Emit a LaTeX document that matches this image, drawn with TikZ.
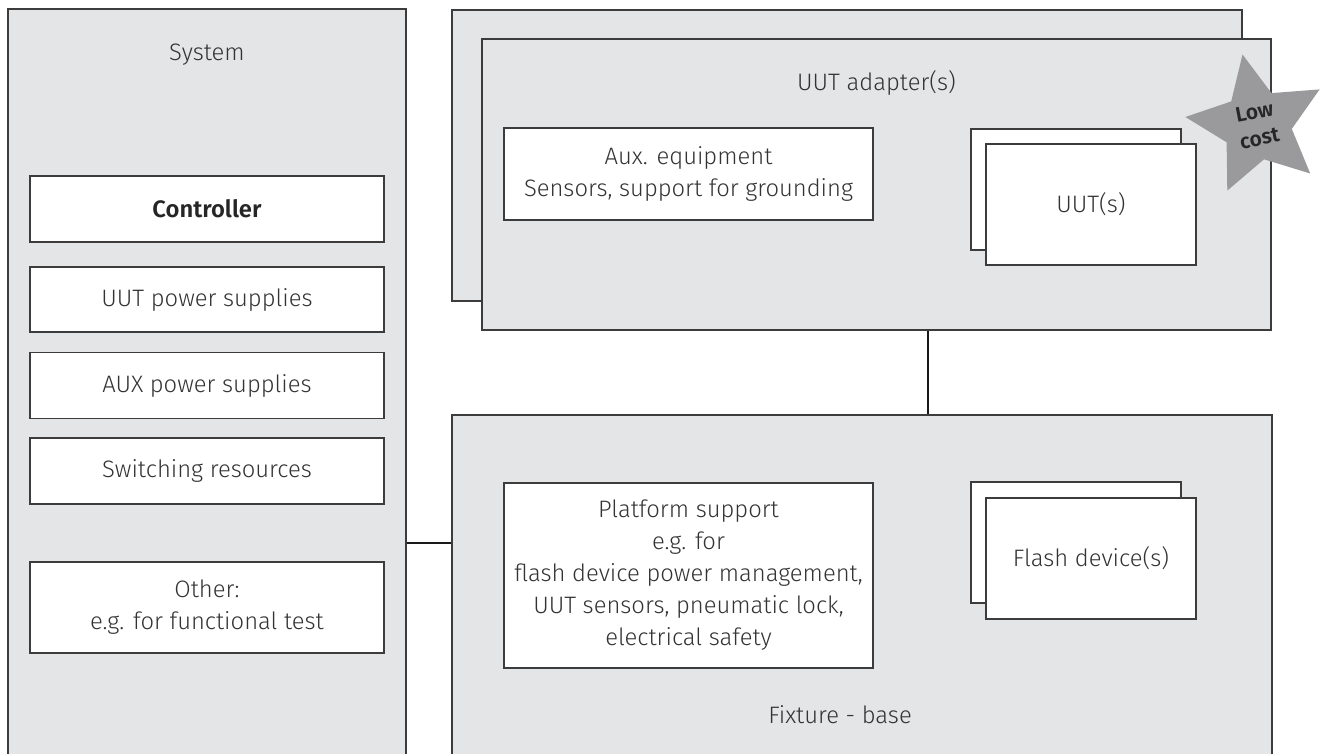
\documentclass[tikz,border=0pt]{standalone}
\usepackage{fontspec}
\IfFontExistsTF{Fira Sans Light}{%
  \IfFontExistsTF{Fira Sans SemiBold}%
    {\setmainfont{Fira Sans Light}[BoldFont={Fira Sans SemiBold}]}%
    {\setmainfont{Fira Sans Light}[BoldFont={Fira Sans Bold}]}%
}{\setmainfont{Fira Sans}}
\definecolor{panelgray}{HTML}{E4E5E7}
\definecolor{edgegray}{HTML}{3C3C3C}
\definecolor{textgray}{HTML}{333333}
\definecolor{stargray}{HTML}{9A9A9C}

\begin{document}
\begin{tikzpicture}[
		x=1pt,y=-1pt,
		every node/.style={font=\fontsize{23.8}{32}\selectfont,text=textgray,inner sep=0pt},
		panel/.style={rectangle,draw=edgegray,fill=panelgray,line width=1.3pt},
		unit/.style={rectangle,draw=edgegray,fill=white,line width=1.3pt,align=center},
		sysunit/.style={unit,minimum width=354pt},
		wide/.style={unit,minimum width=369pt},
		stack/.style={unit,minimum width=210pt,minimum height=121pt},
		wire/.style={line width=2.4pt,black!90}
		]
		\clip (0,0) rectangle (1325,754);
		\fill[white] (0,0) rectangle (1325,754);

		\node[panel,minimum width=398pt,minimum height=771pt] (sys) at (207,394.5) {};
		\node (syslbl) at (207,55) {System};
		\node[sysunit,minimum height=66pt,font=\bfseries\fontsize{23.8}{32}\selectfont,text=black!85] (ctrl) at (207,209) {Controller};
		\node[sysunit,minimum height=65pt] (uutps) at (207,299.5) {UUT power supplies};
		\node[sysunit,minimum height=66pt] (auxps) at (207,385.5) {AUX power supplies};
		\node[sysunit,minimum height=66pt] (switch) at (207,471) {Switching resources};
		\node[sysunit,minimum height=91pt] (other) at (207,607.5) {Other:\\e.g. for functional test};

		\node[panel,minimum width=790pt,minimum height=291pt] (adpback) at (847,155.5) {};
		\node[panel,minimum width=789pt,minimum height=291pt] (adp) at (876.5,184.5) {};
		\node (adplbl) at (876.5,83) {UUT adapter(s)};
		\node[wide,minimum height=92pt] (auxeq) at (688.5,174) {Aux. equipment\\Sensors, support for grounding};
		\node[stack] (uutback) at (1076,189.5) {};
		\node[stack] (uut) at (1091,204.5) {UUT(s)};

		\node[panel,minimum width=820pt,minimum height=365pt] (fix) at (862,597.5) {};
		\node (fixlbl) at (840,715) {Fixture - base};
		\node[wide,minimum height=185pt] (platform) at (688.5,575.5) {Platform support\\e.g. for\\flash device power management,\\UUT sensors, pneumatic lock,\\electrical safety};
		\node[stack] (flashback) at (1076,542.5) {};
		\node[stack] (flash) at (1091,558.5) {Flash device(s)};

		\coordinate (star) at (1257,125);
		\fill[stargray] (1242.5,54.5) -- (1231.2,101.4) -- (1185.4,117.0) -- (1226.6,142.3)
			-- (1227.3,190.6) -- (1264.0,159.3) -- (1310.2,173.5) -- (1291.8,128.9)
			-- (1319.6,89.4) -- (1271.5,93.1) -- cycle;
		\node[rotate=11,align=center,text=black!85,font=\bfseries\fontsize{21}{27}\selectfont] (starlbl) at (star) {Low\\cost};

		\coordinate (tap) at (430,543);
		\coordinate (drop) at (928,372);
		\draw[wire] (tap -| sys.east) -- (tap -| fix.west);
		\draw[wire] (drop |- adp.south) -- (drop |- fix.north);
	\end{tikzpicture}
\end{document}
